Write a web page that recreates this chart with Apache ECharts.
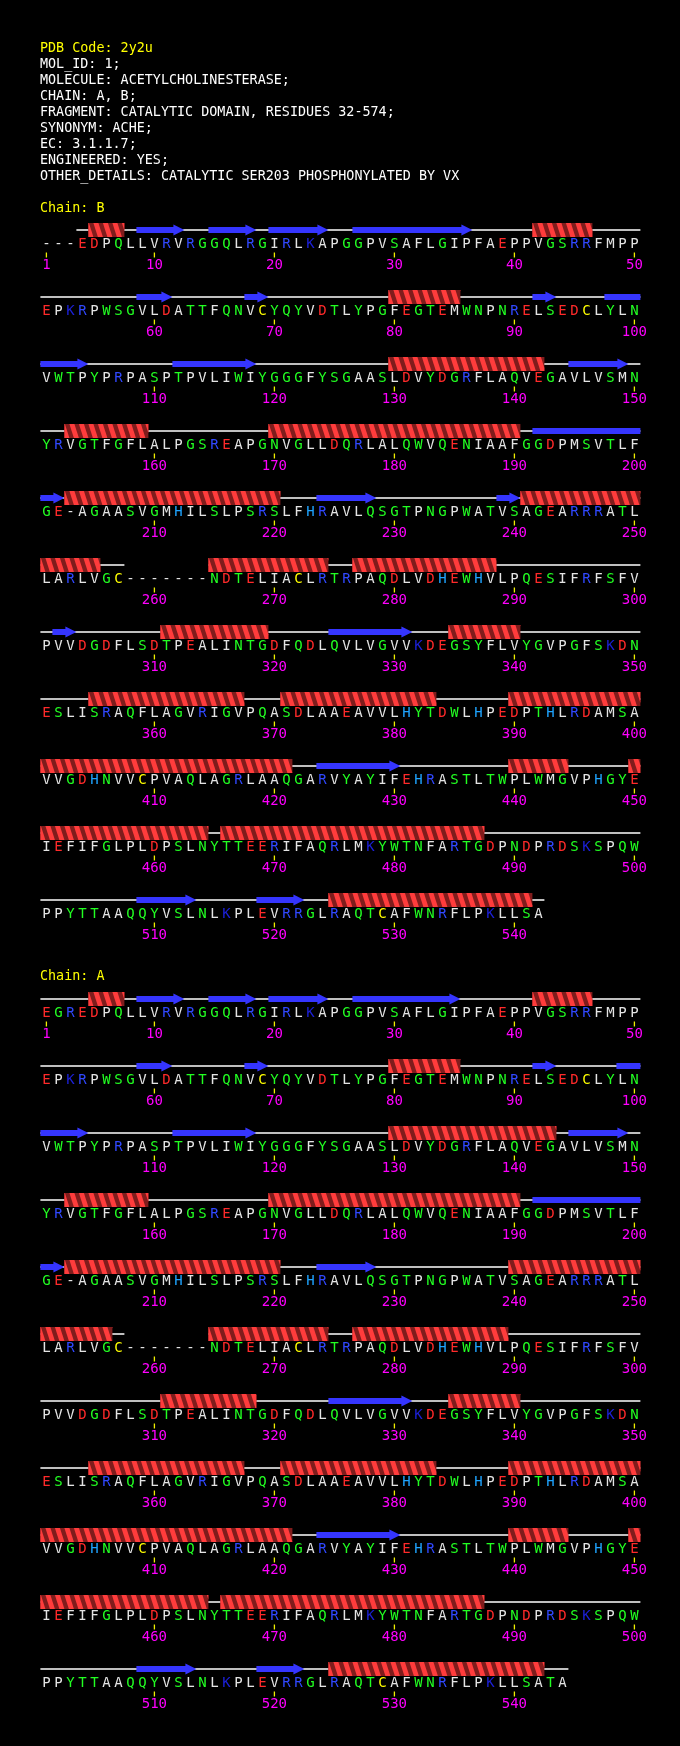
<!DOCTYPE html>
<html><head><meta charset="utf-8">
<script src="https://cdn.jsdelivr.net/npm/echarts@6/dist/echarts.min.js"></script>
<style>html,body{margin:0;padding:0;background:#000}#c{width:680px;height:1746px}</style>
</head><body><div id="c"></div>
<script>
// ---------------- data ----------------
const headerLines = [
  "PDB Code: 2y2u",
  "MOL_ID: 1;",
  "MOLECULE: ACETYLCHOLINESTERASE;",
  "CHAIN: A, B;",
  "FRAGMENT: CATALYTIC DOMAIN, RESIDUES 32-574;",
  "SYNONYM: ACHE;",
  "EC: 3.1.1.7;",
  "ENGINEERED: YES;",
  "OTHER_DETAILS: CATALYTIC SER203 PHOSPHONYLATED BY VX"
];
const chainTitles = ["Chain: B", "Chain: A"];

const chainBRows = [
  "---EDPQLLVRVRGGQLRGIRLKAPGGPVSAFLGIPFAEPPVGSRRFMPP",
  "EPKRPWSGVLDATTFQNVCYQYVDTLYPGFEGTEMWNPNRELSEDCLYLN",
  "VWTPYPRPASPTPVLIWIYGGGFYSGAASLDVYDGRFLAQVEGAVLVSMN",
  "YRVGTFGFLALPGSREAPGNVGLLDQRLALQWVQENIAAFGGDPMSVTLF",
  "GE-AGAASVGMHILSLPSRSLFHRAVLQSGTPNGPWATVSAGEARRRATL",
  "LARLVGC-------NDTELIACLRTRPAQDLVDHEWHVLPQESIFRFSFV",
  "PVVDGDFLSDTPEALINTGDFQDLQVLVGVVKDEGSYFLVYGVPGFSKDN",
  "ESLISRAQFLAGVRIGVPQASDLAAEAVVLHYTDWLHPEDPTHLRDAMSA",
  "VVGDHNVVCPVAQLAGRLAAQGARVYAYIFEHRASTLTWPLWMGVPHGYE",
  "IEFIFGLPLDPSLNYTTEERIFAQRLMKYWTNFARTGDPNDPRDSKSPQW",
  "PPYTTAAQQYVSLNLKPLEVRRGLRAQTCAFWNRFLPKLLSA"
];
const chainARows = [
  "EGREDPQLLVRVRGGQLRGIRLKAPGGPVSAFLGIPFAEPPVGSRRFMPP",
  "EPKRPWSGVLDATTFQNVCYQYVDTLYPGFEGTEMWNPNRELSEDCLYLN",
  "VWTPYPRPASPTPVLIWIYGGGFYSGAASLDVYDGRFLAQVEGAVLVSMN",
  "YRVGTFGFLALPGSREAPGNVGLLDQRLALQWVQENIAAFGGDPMSVTLF",
  "GE-AGAASVGMHILSLPSRSLFHRAVLQSGTPNGPWATVSAGEARRRATL",
  "LARLVGC-------NDTELIACLRTRPAQDLVDHEWHVLPQESIFRFSFV",
  "PVVDGDFLSDTPEALINTGDFQDLQVLVGVVKDEGSYFLVYGVPGFSKDN",
  "ESLISRAQFLAGVRIGVPQASDLAAEAVVLHYTDWLHPEDPTHLRDAMSA",
  "VVGDHNVVCPVAQLAGRLAAQGARVYAYIFEHRASTLTWPLWMGVPHGYE",
  "IEFIFGLPLDPSLNYTTEERIFAQRLMKYWTNFARTGDPNDPRDSKSPQW",
  "PPYTTAAQQYVSLNLKPLEVRRGLRAQTCAFWNRFLPKLLSATA"
];

// secondary structure ranges [first residue, last residue]
const chainBHelices = [[5,7],[42,46],[80,85],[130,142],[153,159],[170,190],[203,220],[241,255],[265,274],[277,288],[311,319],[335,340],[355,367],[371,383],[390,421],[440,444],[450,464],[466,487],[525,541]];
const chainBStrands = [[9,12],[15,18],[20,24],[27,36],[59,61],[68,69],[92,93],[98,104],[112,118],[145,149],[192,202],[224,228],[239,240],[302,303],[325,331],[424,430],[509,513],[519,522]];
const chainAHelices = [[5,7],[42,46],[80,85],[130,143],[153,159],[170,190],[203,220],[240,256],[265,274],[277,289],[311,318],[335,340],[355,367],[371,383],[390,421],[440,444],[450,464],[466,487],[525,542]];
const chainAStrands = [[9,12],[15,18],[20,24],[27,35],[59,61],[68,69],[92,93],[99,104],[112,118],[145,149],[192,202],[224,228],[325,331],[424,430],[509,513],[519,522]];

const tickLabelsB = [1,10,20,30,40,50,60,70,80,90,100,110,120,130,140,150,160,170,180,190,200,210,220,230,240,250,260,270,280,290,300,310,320,330,340,350,360,370,380,390,400,410,420,430,440,450,460,470,480,490,500,510,520,530,540];
const tickLabelsA = [1,10,20,30,40,50,60,70,80,90,100,110,120,130,140,150,160,170,180,190,200,210,220,230,240,250,260,270,280,290,300,310,320,330,340,350,360,370,380,390,400,410,420,430,440,450,460,470,480,490,500,510,520,530,540];

const PER_ROW = 50;

// ---------------- styles ----------------
const MONO = '"DejaVu Sans Mono", "Liberation Mono", monospace';
const FONT_HEAD = '13.4px ' + MONO;
const FONT_SEQ = '14px ' + MONO;
const C_RED = '#ff2a2a', C_GREEN = '#22ff22', C_BLUE = '#3048ff', C_KBLUE = '#1c20d8',
      C_HIS = '#1ea4ff', C_CYS = '#ffff00', C_GREY = '#e4e4e4';
function colorOf(ch) {
  if (ch === 'D' || ch === 'E') return C_RED;
  if (ch === 'R') return C_BLUE;
  if (ch === 'K') return C_KBLUE;
  if (ch === 'H') return C_HIS;
  if (ch === 'C') return C_CYS;
  if ('STNQGYW'.indexOf(ch) >= 0) return C_GREEN;
  return C_GREY;
}

// ---------------- data builders ----------------
function splitRange(r) {
  const out = [];
  const s = r[0], e = r[1];
  for (let row = Math.floor((s - 1) / PER_ROW); row * PER_ROW < e; row++) {
    const base = row * PER_ROW;
    const cs = Math.max(s, base + 1) - base, ce = Math.min(e, base + PER_ROW) - base;
    out.push([row, cs, ce, e <= base + PER_ROW ? 1 : 0]);
  }
  return out;
}
function backboneRuns(rows) {
  const out = [];
  rows.forEach((str, row) => {
    let start = -1;
    for (let i = 0; i <= str.length; i++) {
      const obs = i < str.length && str[i] !== '-';
      if (obs && start < 0) start = i;
      if (!obs && start >= 0) { out.push([row, start + 1, i]); start = -1; }
    }
  });
  return out;
}
function letterData(rows) {
  const out = [];
  rows.forEach((str, row) => { for (let i = 0; i < str.length; i++) out.push([i + 1, row, row * PER_ROW + i]); });
  return out;
}
function tickData(ticks) {
  return ticks.map(n => [((n - 1) % PER_ROW) + 1, Math.floor((n - 1) / PER_ROW), n]);
}

// ---------------- render helpers ----------------
function clipX(pts, x0, x1) {
  function cl(p, keep, ix) {
    const out = [];
    for (let i = 0; i < p.length; i++) {
      const a = p[i], b = p[(i + 1) % p.length];
      const ka = keep(a), kb = keep(b);
      if (ka) out.push(a);
      if (ka !== kb) { const t = (ix - a[0]) / (b[0] - a[0]); out.push([ix, a[1] + t * (b[1] - a[1])]); }
    }
    return out;
  }
  let r = cl(pts, p => p[0] >= x0 - 1e-6, x0);
  if (r.length) r = cl(r, p => p[0] <= x1 + 1e-6, x1);
  return r;
}
function renderLine(params, api) {
  const row = api.value(0);
  const a = api.coord([api.value(1) - 0.5, row]), b = api.coord([api.value(2) + 0.5, row]);
  return { type: 'line', shape: { x1: a[0], y1: a[1], x2: b[0], y2: b[1] }, style: { stroke: '#ffffff', lineWidth: 1.6 } };
}
function renderHelix(params, api) {
  const row = api.value(0);
  const a = api.coord([api.value(1) - 0.5, row]), b = api.coord([api.value(2) + 0.5, row]);
  const x0 = a[0], x1 = b[0], top = a[1] - 7, bot = a[1] + 7;
  const children = [{ type: 'rect', shape: { x: x0, y: top, width: x1 - x0, height: bot - top }, style: { fill: '#801c1c' } }];
  const P = 9.5, W = 5, S = 4.5;
  for (let s = x0 - S - P; s < x1; s += P) {
    const poly = clipX([[s, top], [s + W, top], [s + W + S, bot], [s + S, bot]], x0, x1);
    if (poly.length >= 3) children.push({ type: 'polygon', shape: { points: poly }, style: { fill: '#ff3c3c' } });
  }
  return { type: 'group', children };
}
function renderStrand(params, api) {
  const row = api.value(0), head = api.value(3);
  const a = api.coord([api.value(1) - 0.5, row]), b = api.coord([api.value(2) + 0.5, row]);
  const x0 = a[0], x1 = b[0], y = a[1];
  let pts;
  if (head) {
    const hb = Math.max(x0 + 2, x1 - 11);
    pts = [[x0, y - 3], [hb, y - 3], [hb, y - 5.5], [x1, y], [hb, y + 5.5], [hb, y + 3], [x0, y + 3]];
  } else {
    pts = [[x0, y - 3], [x1, y - 3], [x1, y + 3], [x0, y + 3]];
  }
  return { type: 'polygon', shape: { points: pts }, style: { fill: '#3535ff' } };
}
function makeLetterRender(rows) {
  const seq = rows.join('');
  return function (params, api) {
    const p = api.coord([api.value(0), api.value(1)]);
    const ch = seq[api.value(2)];
    return { type: 'text', x: p[0], y: p[1] + 14.5,
      style: { text: ch, fill: colorOf(ch), font: FONT_SEQ, align: 'center', verticalAlign: 'middle' } };
  };
}
function renderTick(params, api) {
  const p = api.coord([api.value(0), api.value(1)]);
  return { type: 'group', children: [
    { type: 'line', shape: { x1: p[0], y1: p[1] + 22.5, x2: p[0], y2: p[1] + 27.5 }, style: { stroke: '#f0f000', lineWidth: 1.3 } },
    { type: 'text', x: p[0], y: p[1] + 35, style: { text: String(api.value(2)), fill: '#ff00ff', font: FONT_SEQ, align: 'center', verticalAlign: 'middle' } }
  ] };
}

// ---------------- chart ----------------
const chains = [
  { rows: chainBRows, helices: chainBHelices, strands: chainBStrands, ticks: tickLabelsB, top: 230 },
  { rows: chainARows, helices: chainAHelices, strands: chainAStrands, ticks: tickLabelsA, top: 999 }
];
const grids = [], xAxes = [], yAxes = [], series = [];
chains.forEach((c, gi) => {
  grids.push({ left: 40.4, top: c.top, width: 600, height: 670, containLabel: false, outerBoundsMode: 'none', show: false });
  xAxes.push({ gridIndex: gi, type: 'value', min: 0.5, max: 50.5, show: false });
  yAxes.push({ gridIndex: gi, type: 'value', min: 0, max: 10, inverse: true, show: false });
  const base = { type: 'custom', coordinateSystem: 'cartesian2d', xAxisIndex: gi, yAxisIndex: gi, clip: false, silent: true, animation: false };
  series.push(Object.assign({}, base, { name: 'backbone' + gi, renderItem: renderLine, data: backboneRuns(c.rows), encode: { x: [1, 2], y: 0 } }));
  series.push(Object.assign({}, base, { name: 'strand' + gi, renderItem: renderStrand, data: c.strands.flatMap(splitRange), encode: { x: [1, 2], y: 0 } }));
  series.push(Object.assign({}, base, { name: 'helix' + gi, renderItem: renderHelix, data: c.helices.flatMap(splitRange), encode: { x: [1, 2], y: 0 } }));
  series.push(Object.assign({}, base, { name: 'seq' + gi, renderItem: makeLetterRender(c.rows), data: letterData(c.rows), encode: { x: 0, y: 1 } }));
  series.push(Object.assign({}, base, { name: 'ticks' + gi, renderItem: renderTick, data: tickData(c.ticks), encode: { x: 0, y: 1 } }));
});

const graphics = headerLines.map((t, i) => ({
  type: 'text', x: 40, y: 48.5 + i * 16,
  style: { text: t, fill: i === 0 ? '#ffff00' : '#ffffff', font: FONT_HEAD, align: 'left', verticalAlign: 'middle' }
}));
graphics.push({ type: 'text', x: 40, y: 208.5, style: { text: chainTitles[0], fill: '#ffff00', font: FONT_HEAD, align: 'left', verticalAlign: 'middle' } });
graphics.push({ type: 'text', x: 40, y: 977, style: { text: chainTitles[1], fill: '#ffff00', font: FONT_HEAD, align: 'left', verticalAlign: 'middle' } });

const chart = echarts.init(document.getElementById('c'), null, { renderer: 'canvas' });
chart.setOption({
  backgroundColor: '#000000',
  animation: false,
  grid: grids, xAxis: xAxes, yAxis: yAxes,
  series: series,
  graphic: graphics
});
</script></body></html>
